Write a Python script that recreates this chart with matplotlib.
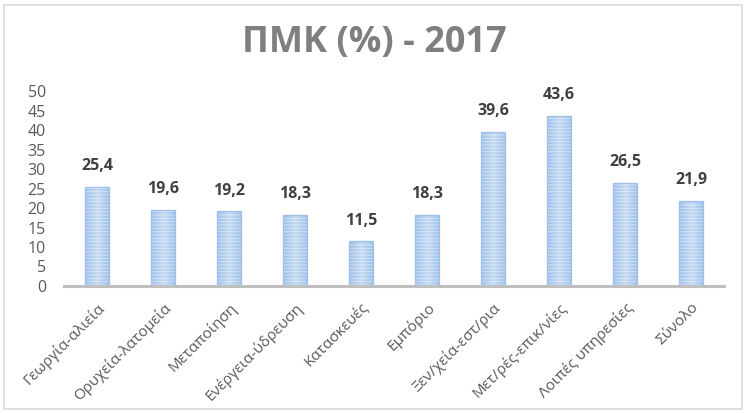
import matplotlib
matplotlib.use("Agg")
import matplotlib.pyplot as plt
import numpy as np
from matplotlib.patches import Rectangle
from matplotlib.colors import LinearSegmentedColormap

categories = ["Γεωργία-αλιεία", "Ορυχεία-λατομεία", "Μεταποίηση", "Ενέργεια-ύδρευση",
              "Κατασκευές", "Εμπόριο", "Ξεν/χεία-εστ/ρια", "Μετ/ρές-επικ/νίες",
              "Λοιπές υπηρεσίες", "Σύνολο"]
values = [25.4, 19.6, 19.2, 18.3, 11.5, 18.3, 39.6, 43.6, 26.5, 21.9]
labels = ["25,4", "19,6", "19,2", "18,3", "11,5", "18,3", "39,6", "43,6", "26,5", "21,9"]
yticks = [0, 5, 10, 15, 20, 25, 30, 35, 40, 45, 50]

plt.rcParams['font.family'] = ['Open Sans', 'DejaVu Sans']
plt.rcParams['hatch.linewidth'] = 0.6

fig = plt.figure(figsize=(7.48, 4.13), dpi=100)
ax = fig.add_axes([64/748, 1-286/413, 660/748, 195/413])

x = list(range(len(categories)))
bars = ax.bar(x, values, width=0.37, color='none', edgecolor='#9dbfe8',
              linewidth=0.9, zorder=3)

cmap = LinearSegmentedColormap.from_list('g', ['#9cc0ea', '#c6dbf3', '#9cc0ea'])
grad = np.linspace(0, 1, 64).reshape(1, -1)
for b in bars:
    x0, w, h = b.get_x(), b.get_width(), b.get_height()
    im = ax.imshow(grad, extent=[x0, x0 + w, 0, h], aspect='auto', cmap=cmap,
                   zorder=2, interpolation='bicubic')
    clip = Rectangle((x0, 0), w, h, transform=ax.transData, fill=False)
    im.set_clip_path(clip)
    ax.add_patch(Rectangle((x0, 0), w, h, facecolor='none', hatch='-----',
                           edgecolor=(1, 1, 1, 0.5), linewidth=0, zorder=2.5))

for xi, v, lab in zip(x, values, labels):
    ax.text(xi, v + 3.2, lab, ha='center', va='bottom', fontsize=11.5,
            fontweight='bold', color='#404040')

ax.set_xlim(-0.5, len(categories) - 0.5)
ax.set_ylim(0, 50)
ax.set_yticks(yticks)
ax.set_yticklabels([str(t) for t in yticks], fontsize=11.5, color='#595959')
ax.set_xticks(x)
ax.set_xticklabels(categories, rotation=45, ha='right', rotation_mode='anchor',
                   fontsize=11, color='#595959')
ax.tick_params(axis='both', length=0)
ax.tick_params(axis='y', pad=13)
ax.tick_params(axis='x', pad=10)
for s in ['top', 'right', 'left']:
    ax.spines[s].set_visible(False)
ax.spines['bottom'].set_color('#bfbfbf')
ax.spines['bottom'].set_linewidth(2.2)
ax.spines['bottom'].set_zorder(4)

fig.text(0.5, 1-43/413, "ΠΜΚ (%) - 2017", ha='center', va='center', fontsize=26,
         fontweight='bold', color='#7f7f7f')

fig.patches.append(Rectangle((4/748, 4/413), 738/748, 404/413, transform=fig.transFigure,
                             fill=False, edgecolor='#d9d9d9', linewidth=1.2))

fig.savefig("out.png", dpi=100)
